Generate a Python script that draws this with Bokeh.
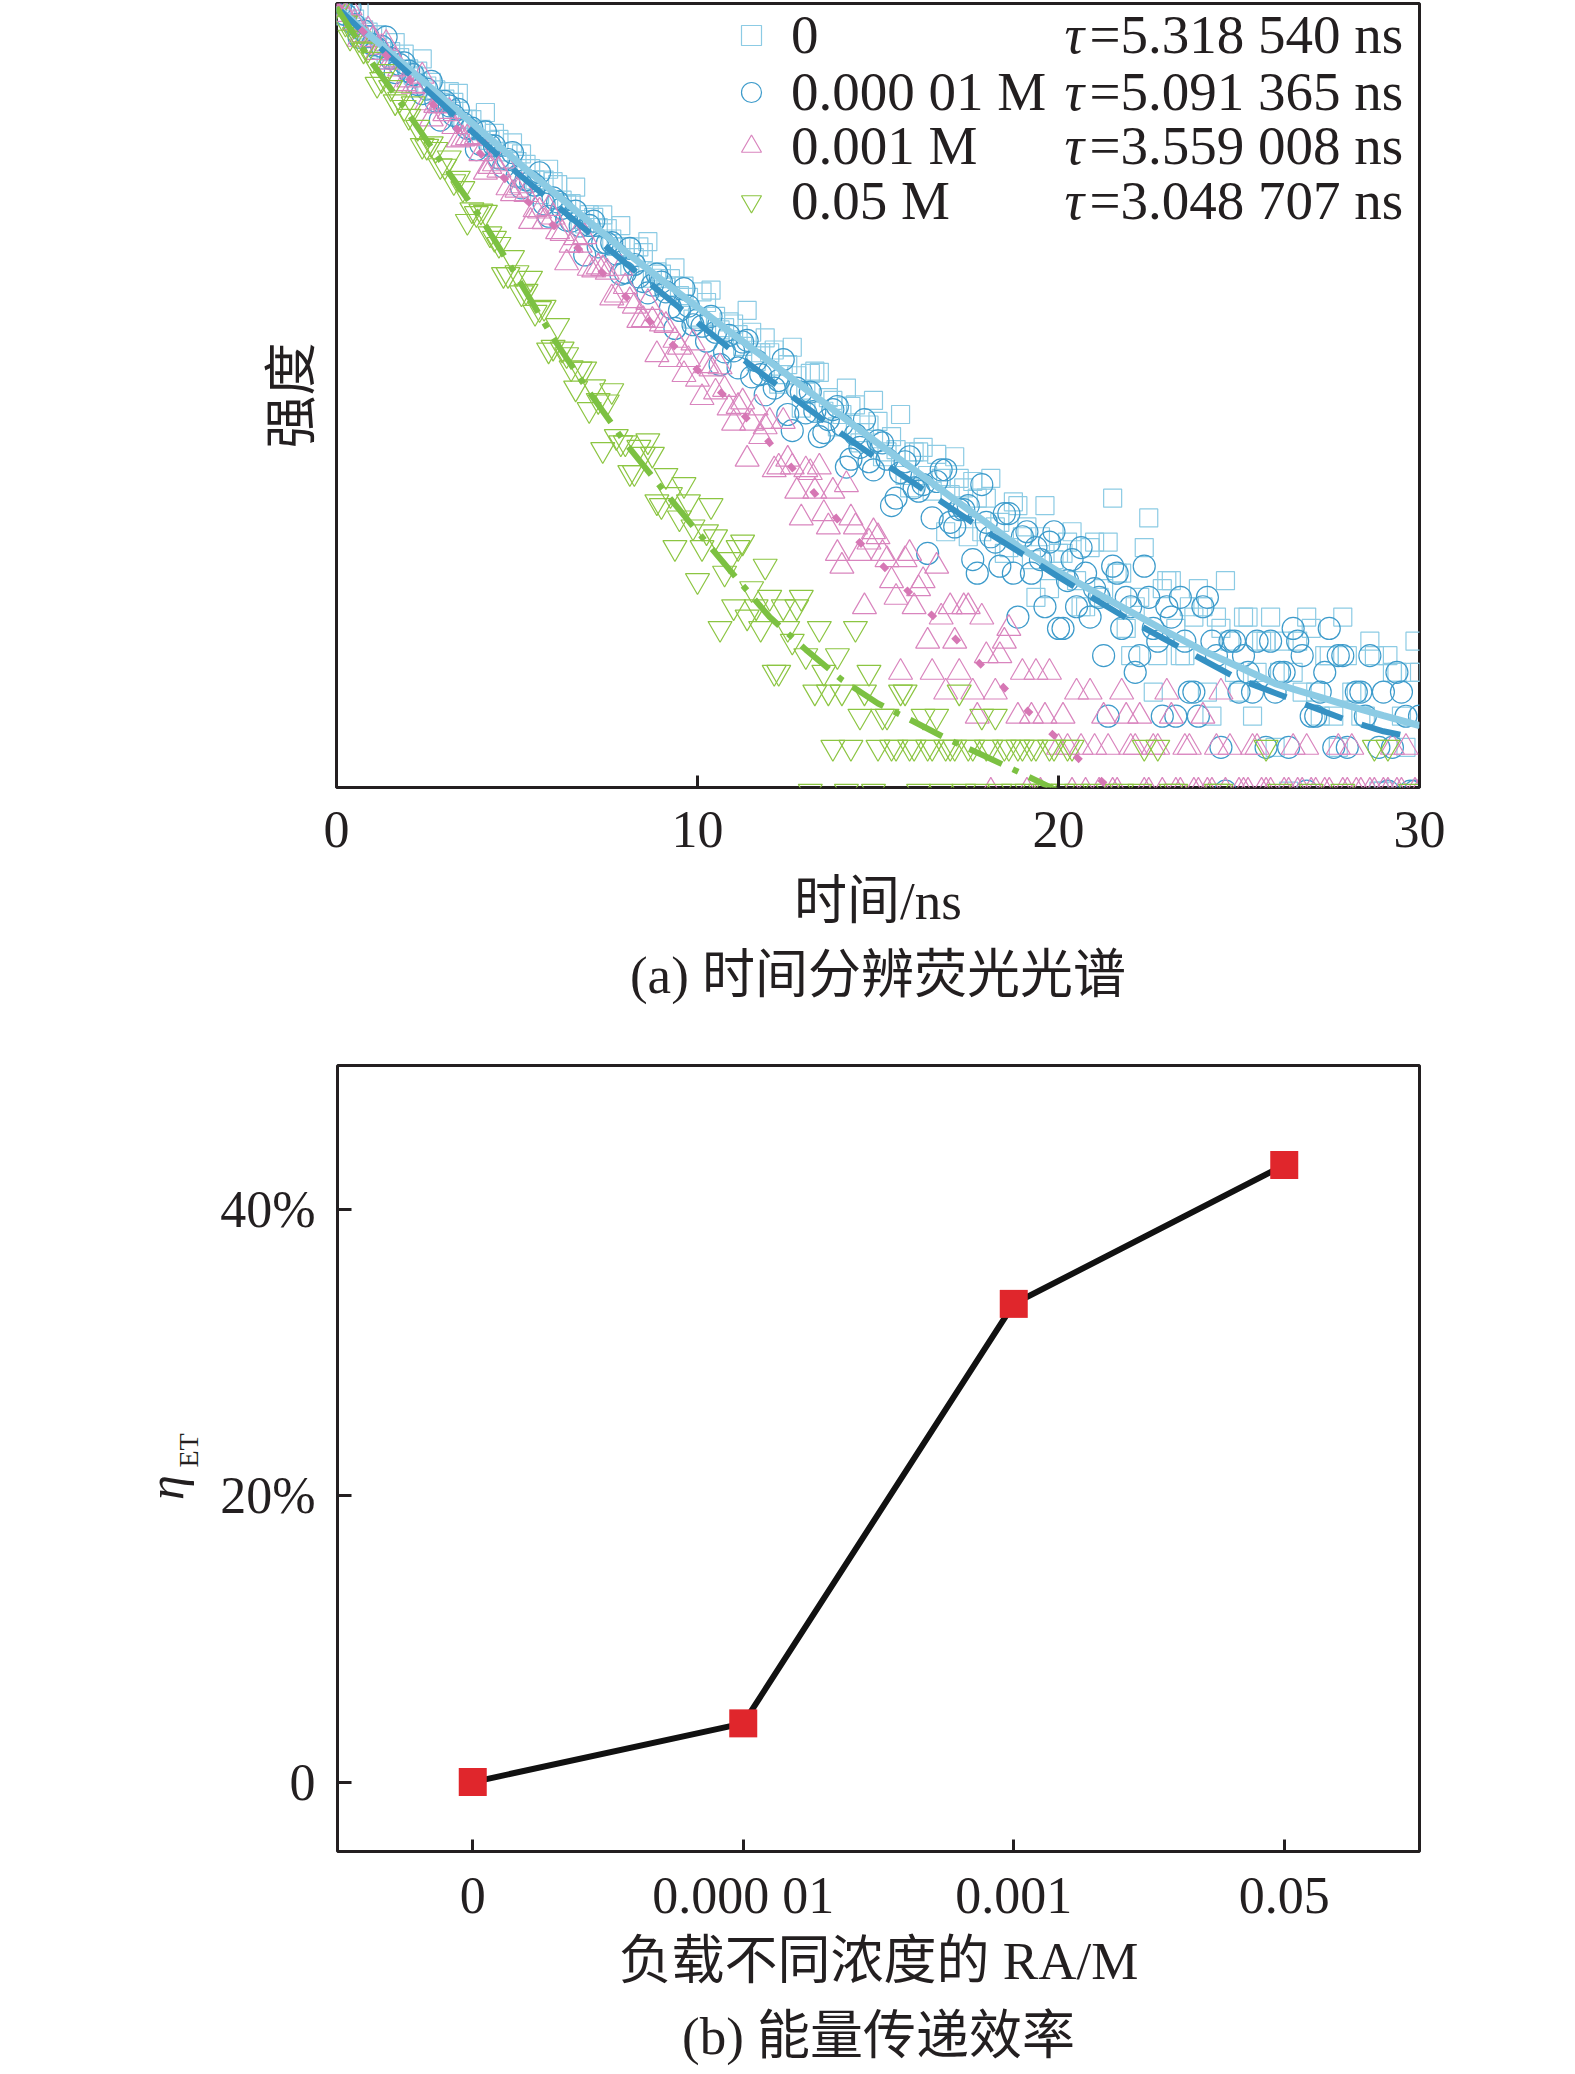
import math
from bokeh.plotting import figure
from bokeh.layouts import column, row
from bokeh.models import (Range1d, FactorRange, FixedTicker, Legend, LegendItem,
                          Label, Title)
from bokeh.embed import file_html
from bokeh.resources import INLINE

SERIF = "Liberation Serif"
MIXED = "'Liberation Serif', 'Noto Sans CJK SC'"
INK = "#231f20"

# ---------------- (a) time-resolved fluorescence ----------------
TIME_NS = [
    0.0, 0.25, 0.5, 0.75, 1.0, 1.25, 1.5, 1.75, 2.0, 2.25, 2.5, 2.75,
    3.0, 3.25, 3.5, 3.75, 4.0, 4.25, 4.5, 4.75, 5.0, 5.25, 5.5, 5.75,
    6.0, 6.25, 6.5, 6.75, 7.0, 7.25, 7.5, 7.75, 8.0, 8.25, 8.5, 8.75,
    9.0, 9.25, 9.5, 9.75, 10.0, 10.25, 10.5, 10.75, 11.0, 11.25, 11.5, 11.75,
    12.0, 12.25, 12.5, 12.75, 13.0, 13.25, 13.5, 13.75, 14.0, 14.25, 14.5, 14.75,
    15.0, 15.25, 15.5, 15.75, 16.0, 16.25, 16.5, 16.75, 17.0, 17.25, 17.5, 17.75,
    18.0, 18.25, 18.5, 18.75, 19.0, 19.25, 19.5, 19.75, 20.0, 20.25, 20.5, 20.75,
    21.0, 21.25, 21.5, 21.75, 22.0, 22.25, 22.5, 22.75, 23.0, 23.25, 23.5, 23.75,
    24.0, 24.25, 24.5, 24.75, 25.0, 25.25, 25.5, 25.75, 26.0, 26.25, 26.5, 26.75,
    27.0, 27.25, 27.5, 27.75, 28.0, 28.25, 28.5, 28.75, 29.0, 29.25, 29.5, 29.75,
    30.0,
]
TIME_HALF_NS = [
    0.125, 0.375, 0.625, 0.875, 1.125, 1.375, 1.625, 1.875, 2.125, 2.375, 2.625, 2.875,
    3.125, 3.375, 3.625, 3.875, 4.125, 4.375, 4.625, 4.875, 5.125, 5.375, 5.625, 5.875,
    6.125, 6.375, 6.625, 6.875, 7.125, 7.375, 7.625, 7.875, 8.125, 8.375, 8.625, 8.875,
    9.125, 9.375, 9.625, 9.875, 10.125, 10.375, 10.625, 10.875, 11.125, 11.375, 11.625, 11.875,
    12.125, 12.375, 12.625, 12.875, 13.125, 13.375, 13.625, 13.875, 14.125, 14.375, 14.625, 14.875,
    15.125, 15.375, 15.625, 15.875, 16.125, 16.375, 16.625, 16.875, 17.125, 17.375, 17.625, 17.875,
    18.125, 18.375, 18.625, 18.875, 19.125, 19.375, 19.625, 19.875, 20.125, 20.375, 20.625, 20.875,
    21.125, 21.375, 21.625, 21.875, 22.125, 22.375, 22.625, 22.875, 23.125, 23.375, 23.625, 23.875,
    24.125, 24.375, 24.625, 24.875, 25.125, 25.375, 25.625, 25.875, 26.125, 26.375, 26.625, 26.875,
    27.125, 27.375, 27.625, 27.875, 28.125, 28.375, 28.625, 28.875, 29.125, 29.375, 29.625, 29.875,
]

SERIES_LABELS = ["0", "0.000 01 M", "0.001 M", "0.05 M"]
TAU_LABELS = ["5.318 540 ns", "5.091 365 ns", "3.559 008 ns", "3.048 707 ns"]

COUNTS_0 = [
    2853, 2602, 2511, 2274, 2168, 1927, 1858, 1760, 1584, 1551,
    1353, 1305, 1198, 1162, 994, 992, 907, 819, 826, 736,
    673, 656, 568, 567, 559, 471, 456, 394, 412, 366,
    362, 307, 305, 277, 290, 229, 238, 228, 195, 192,
    160, 183, 161, 145, 150, 122, 139, 115, 115, 86,
    103, 93, 80, 97, 67, 74, 65, 70, 50, 59,
    61, 46, 47, 37, 46, 48, 32, 36, 31, 36,
    21, 30, 30, 23, 18, 29, 21, 17, 21, 13,
    18, 20, 14, 11, 20, 13, 30, 15, 7, 12,
    25, 7, 14, 9, 7, 10, 11, 4, 9, 8,
    5, 10, 6, 8, 3, 8, 6, 5, 9, 4,
    7, 3, 7, 5, 4, 7, 2, 6, 4, 6, 6,
]
COUNTS_1 = [
    2864, 2618, 2386, 2252, 1983, 1951, 1745, 1647, 1551, 1370,
    1315, 1177, 1173, 1031, 960, 916, 787, 780, 696, 686,
    587, 569, 541, 455, 481, 437, 388, 371, 373, 306,
    316, 287, 241, 260, 222, 215, 221, 175, 170, 177,
    156, 128, 139, 116, 117, 127, 92, 94, 97, 89,
    65, 83, 66, 67, 55, 68, 59, 43, 48, 42,
    51, 43, 30, 42, 33, 34, 25, 39, 24, 27,
    28, 15, 24, 20, 26, 15, 21, 15, 17, 20,
    9, 14, 11, 15, 13, 7, 16, 9, 11, 7,
    12, 8, 11, 4, 8, 5, 11, 8, 3, 8,
    5, 6, 8, 3, 5, 6, 9, 7, 4, 5,
    9, 7, 3, 5, 4, 1, 5, 3, 5, 2, 4,
]
COUNTS_2 = [
    2955, 2623, 2429, 2174, 2075, 1935, 1686, 1585, 1430, 1361,
    1158, 1130, 1047, 930, 829, 835, 724, 643, 622, 528,
    517, 496, 431, 386, 403, 346, 311, 311, 251, 254,
    242, 196, 212, 177, 156, 155, 150, 108, 121, 108,
    90, 102, 80, 82, 60, 73, 60, 53, 61, 40,
    43, 32, 39, 32, 26, 32, 16, 25, 18, 20,
    21, 17, 12, 17, 11, 14, 6, 10, 11, 6,
    11, 4, 7, 5, 8, 1, 6, 4, 2, 6,
    3, 3, 5, 2, 3, 4, 2, 5, 3, 4,
    2, 3, 5, 2, 3, 2, 4, 2, 5, 3,
    2, 2, 3, 2, 1, 2, 3, 2, 2, 1,
    2, 3, 2, 2, 1, 2, 2, 3, 2, 1, 2,
]
COUNTS_3 = [
    2853, 2420, 2175, 1886, 1732, 1437, 1334, 1198, 1022, 924,
    775, 753, 645, 559, 524, 431, 426, 345, 313, 237,
    241, 203, 167, 175, 121, 119, 100, 99, 68, 74,
    73, 53, 50, 38, 45, 45, 28, 31, 25, 29,
    14, 22, 21, 15, 11, 20, 13, 9, 12, 6,
    9, 11, 7, 5, 6, 3, 5, 3, 4, 6,
    3, 4, 3, 5, 3, 4, 3, 2, 3, 5,
    3, 2, 3, 4, 3, 2, 3, 3, 2, 3,
    1, 3, 2, 1, 2, 1, 1, 2, 1, 2,
    1, 3, 1, 2, 1, 1, 1, 1, 2, 1,
    1, 1, 1, 3, 1, 1, 1, 1, 2, 1,
    1, 1, 1, 1, 1, 3, 1, 1, 1, 2, 1,
]
# counts on the in-between channels TIME_HALF_NS
HALF_0 = [
    2585, 2810, 2752, 2227, 2174, 1726, 2021, 1815, 1494, 1737,
    1398, 1160, 1284, 1265, 997, 894, 1059, 874, 685, 800,
    722, 631, 496, 627, 544, 454, 531, 378, 402, 411,
    329, 372, 257, 306, 321, 243, 211, 252, 213, 157,
    202, 205, 142, 153, 136, 170, 106, 132, 118, 94,
    121, 69, 95, 96, 76, 58, 83, 71, 55, 74,
    44, 53, 65, 33, 46, 37, 45, 22, 44, 33,
    35, 22, 36, 24, 19, 28, 23, 12, 28, 17,
    18, 22, 11, 19, 12, 20, 15, 9, 11, 19,
    5, 13, 14, 7, 11, 13, 5, 10, 14, 6,
    10, 4, 8, 10, 6, 2, 8, 10, 5, 7,
    4, 10, 5, 4, 8, 2, 7, 6, 3, 8,
]
HALF_1 = [
    2876, 2800, 2123, 2135, 1912, 2126, 1531, 1674, 1502, 1262,
    1411, 987, 1127, 1091, 916, 752, 885, 778, 641, 732,
    528, 559, 607, 406, 464, 392, 426, 284, 388, 319,
    318, 238, 302, 232, 200, 238, 202, 144, 208, 149,
    147, 161, 103, 135, 100, 129, 107, 78, 83, 108,
    56, 80, 80, 53, 62, 70, 40, 54, 62, 39,
    50, 28, 38, 44, 32, 18, 35, 39, 23, 27,
    17, 34, 21, 16, 26, 10, 22, 19, 11, 22,
    9, 17, 19, 10, 12, 4, 15, 12, 6, 16,
    9, 4, 10, 12, 5, 4, 12, 7, 2, 8,
    7, 5, 1, 8, 6, 3, 8, 2, 4, 6,
    3, 7, 1, 5, 7, 3, 2, 6, 4, 2,
]
HALF_2 = [
    2770, 2782, 2083, 2274, 1846, 2007, 1718, 1381, 1349, 1482,
    998, 1125, 1069, 822, 839, 848, 610, 659, 676, 500,
    538, 387, 426, 436, 352, 264, 333, 336, 247, 250,
    191, 251, 186, 155, 183, 113, 148, 129, 94, 126,
    76, 99, 101, 69, 70, 43, 69, 58, 39, 61,
    40, 25, 38, 40, 23, 18, 34, 23, 11, 22,
    18, 14, 6, 18, 13, 8, 16, 5, 8, 11,
    5, 10, 2, 7, 9, 4, 2, 6, 4, 1,
    4, 2, 3, 5, 2, 3, 2, 4, 3, 2,
    3, 2, 4, 2, 3, 2, 2, 3, 2, 1,
    2, 3, 2, 2, 1, 2, 2, 3, 2, 2,
    1, 2, 3, 2, 2, 1, 2, 2, 3, 2,
]
HALF_3 = [
    2880, 2124, 2097, 1902, 1374, 1547, 1170, 1110, 1148, 781,
    793, 648, 696, 577, 387, 416, 421, 331, 237, 277,
    200, 229, 173, 118, 148, 113, 83, 99, 84, 47,
    81, 50, 38, 48, 51, 29, 37, 19, 34, 23,
    19, 28, 9, 17, 19, 10, 11, 16, 6, 11,
    8, 12, 2, 9, 5, 7, 2, 9, 5, 2,
    4, 3, 5, 3, 2, 3, 4, 3, 3, 2,
    3, 4, 3, 2, 3, 3, 2, 3, 2, 3,
    2, 3, 1, 1, 1, 2, 1, 1, 1, 3,
    1, 1, 2, 1, 1, 1, 1, 2, 1, 1,
    1, 1, 1, 1, 2, 1, 1, 1, 1, 1,
    1, 2, 1, 1, 1, 1, 3, 1, 1, 1,
]

FIT_T = [0, 1, 2, 3, 4, 5, 6, 7, 8, 9, 10, 11, 12, 13, 14, 15,
         16, 17, 18, 19, 20, 21, 22, 23, 24, 25, 26, 27, 28, 29, 30]
FIT_0 = [2811, 2113, 1588, 1191, 895, 673, 509, 386, 293, 226, 175, 136, 106,
         82.2, 64.0, 49.8, 39.0, 30.5, 23.9, 18.7, 15.2, 12.6, 10.5, 8.73,
         7.33, 6.30, 5.41, 4.89, 4.42, 4.02, 3.67]
FIT_1 = [2811, 2051, 1520, 1119, 824, 607, 460, 349, 264, 200, 152, 116, 89.7,
         69.8, 54.3, 43.0, 34.4, 27.5, 22.0, 17.9, 14.5, 11.8, 9.68, 8.07,
         6.74, 5.62, 4.96, 4.37, 3.85, 3.48, 3.26]
FIT_2 = [2890, 2043, 1445, 1021, 721, 510, 374, 274, 194, 138, 98.2, 71.3,
         50.0, 34.5, 23.5, 16.8, 12.0, 8.6, 6.12, 4.40, 3.22, 2.34, 1.70]
FIT_3 = [2800, 1667, 1045, 640, 400, 232, 132, 80, 50, 33, 22, 14.8, 10.0,
         7.4, 5.6, 4.5, 3.8, 3.2, 2.75, 2.35, 2.0, 1.7]

X_TICKS_A = [0, 10, 20, 30]

# ---------------- (b) energy-transfer efficiency ----------------
CONC_CATS = ["0", "0.000 01", "0.001", "0.05"]
ETA_PCT = [0.0, 4.1, 33.4, 43.1]
Y_TICKS_B = [0, 20, 40]
Y_TICK_TEXT_B = {0: "0", 20: "20%", 40: "40%"}


def style_common(p):
    p.background_fill_color = "white"
    p.border_fill_color = "white"
    p.outline_line_color = INK
    p.outline_line_width = 3
    p.xgrid.visible = False
    p.ygrid.visible = False
    for ax in p.axis:
        ax.axis_line_color = None
        ax.major_tick_line_color = INK
        ax.major_tick_line_width = 3
        ax.major_tick_out = 0
        ax.minor_tick_line_color = None
        ax.major_label_text_font = SERIF
        ax.major_label_text_font_size = "52px"
        ax.major_label_text_color = INK
        ax.axis_label_text_font = MIXED
        ax.axis_label_text_font_size = "53px"
        ax.axis_label_text_font_style = "normal"
        ax.axis_label_text_color = INK


# ---------------- figure (a) ----------------
FRAME_A_H = 784
BOTTOM_A = 257
pa = figure(frame_width=1083, frame_height=FRAME_A_H,
            x_range=Range1d(0, 30), y_range=Range1d(2.07, 2900),
            y_axis_type="log", output_backend="svg", toolbar_location=None,
            min_border_left=336, min_border_right=40, min_border_top=3,
            min_border_bottom=BOTTOM_A)
style_common(pa)

xa = pa.xaxis[0]
xa.ticker = FixedTicker(ticks=X_TICKS_A)
xa.major_tick_in = 12
xa.major_label_standoff = 24
xa.axis_label = "时间/ns"
xa.axis_label_standoff = 22

ya = pa.yaxis[0]
ya.ticker = FixedTicker(ticks=[])
ya.major_tick_in = 0
ya.axis_label = "强度"
ya.axis_label_standoff = 16

COL_SQ = "#8ccbe4"
COL_CI = "#3d9bcb"
COL_TR = "#d985be"
COL_IT = "#8cc542"

T_ALL = TIME_NS + TIME_HALF_NS
r0 = pa.scatter(T_ALL, COUNTS_0 + HALF_0, marker="square", size=18,
                fill_color=None, line_color=COL_SQ, line_width=1.2)
r1 = pa.scatter(T_ALL, COUNTS_1 + HALF_1, marker="circle", size=22,
                fill_color=None, line_color=COL_CI, line_width=1.2)
r2 = pa.scatter(T_ALL, COUNTS_2 + HALF_2, marker="triangle", size=24,
                fill_color=None, line_color=COL_TR, line_width=1.2)
r3 = pa.scatter(T_ALL, COUNTS_3 + HALF_3, marker="inverted_triangle", size=24,
                fill_color=None, line_color=COL_IT, line_width=1.2)

pa.line(FIT_T, FIT_0, line_color="#8ccbe4", line_width=7)
pa.line(FIT_T, FIT_1, line_color="#3591c3", line_width=6, line_dash="40 20")
pa.line(FIT_T[:len(FIT_2)], FIT_2, line_color="#d677b4", line_width=6,
        line_dash="8 26")
pa.line(FIT_T[:len(FIT_3)], FIT_3, line_color="#7cc142", line_width=6,
        line_dash="36 12 6 12")

# one legend per row so rows can sit 55 px apart like the reference
ROW_CENTERS = [36, 93, 147, 202]   # page y of each legend row
for i, r in enumerate([r0, r1, r2, r3]):
    lg = Legend(
        items=[LegendItem(label=SERIES_LABELS[i], renderers=[r])],
        location=(390, 3 + FRAME_A_H - ROW_CENTERS[i] - 30),
        glyph_width=50, glyph_height=50, label_height=50, spacing=0,
        padding=0, margin=0, label_standoff=15, border_line_color=None,
        background_fill_alpha=0, label_text_font=SERIF,
        label_text_font_size="55px", label_text_color=INK,
    )
    pa.add_layout(lg)
    yy = 3 + FRAME_A_H - ROW_CENTERS[i] + 2
    pa.add_layout(Label(x=728, y=yy, x_units="screen", y_units="screen",
                        text="τ", text_font=SERIF, text_font_style="italic",
                        text_font_size="55px", text_baseline="middle",
                        text_color=INK))
    pa.add_layout(Label(x=753, y=yy, x_units="screen", y_units="screen",
                        text="=" + TAU_LABELS[i], text_font=SERIF,
                        text_font_size="55px", text_baseline="middle",
                        text_color=INK))

pa.add_layout(Title(text="(a) 时间分辨荧光光谱", align="center",
                    text_font=MIXED, text_font_size="53px",
                    text_font_style="normal", text_color=INK, standoff=22),
              "below")

# ---------------- figure (b) ----------------
TOP_B = 1065 - (3 + FRAME_A_H + BOTTOM_A)
FRAME_B_H = 786
LEFT_STRIP = 215

pb = figure(frame_width=1082, frame_height=FRAME_B_H,
            x_range=FactorRange(*CONC_CATS), y_range=Range1d(-4.85, 50.05),
            output_backend="svg", toolbar_location=None,
            min_border_left=337 - LEFT_STRIP, min_border_right=40,
            min_border_top=TOP_B, min_border_bottom=0)
style_common(pb)

xb = pb.xaxis[0]
xb.major_tick_in = 12
xb.major_label_standoff = 15
xb.axis_label = "负载不同浓度的 RA/M"
xb.axis_label_standoff = 5

yb = pb.yaxis[0]
yb.ticker = FixedTicker(ticks=Y_TICKS_B)
yb.major_label_overrides = Y_TICK_TEXT_B
yb.major_tick_in = 14
yb.major_label_standoff = 22

pb.line(CONC_CATS, ETA_PCT, line_color="#111111", line_width=6)
pb.scatter(CONC_CATS, ETA_PCT, marker="square", size=28, fill_color="#e0262c",
           line_color=None)

pb.add_layout(Title(text="(b) 能量传递效率", align="center",
                    text_font=MIXED, text_font_size="53px",
                    text_font_style="normal", text_color=INK, standoff=24),
              "below")

# strip left of (b) carrying the y-axis title  η_ET
fe = figure(frame_width=LEFT_STRIP, frame_height=FRAME_B_H,
            x_range=Range1d(0, LEFT_STRIP), y_range=Range1d(0, FRAME_B_H),
            x_axis_location=None, y_axis_location=None,
            output_backend="svg", toolbar_location=None,
            min_border_left=0, min_border_right=0, min_border_top=TOP_B,
            min_border_bottom=0)
fe.outline_line_color = None
fe.background_fill_color = "white"
fe.border_fill_color = "white"
fe.xgrid.visible = False
fe.ygrid.visible = False
fe.add_layout(Label(x=165, y=364, x_units="screen", y_units="screen",
                    text="η", angle=math.pi / 2, text_align="center",
                    text_baseline="alphabetic", text_font=SERIF,
                    text_font_style="italic", text_font_size="50px",
                    text_color=INK))
fe.add_layout(Label(x=188, y=401, x_units="screen", y_units="screen",
                    text="ET", angle=math.pi / 2, text_align="center",
                    text_baseline="alphabetic", text_font=SERIF,
                    text_font_size="28px", text_color=INK))

layout = column(pa, row(fe, pb))
open("out.html", "w").write(file_html(layout, INLINE))
